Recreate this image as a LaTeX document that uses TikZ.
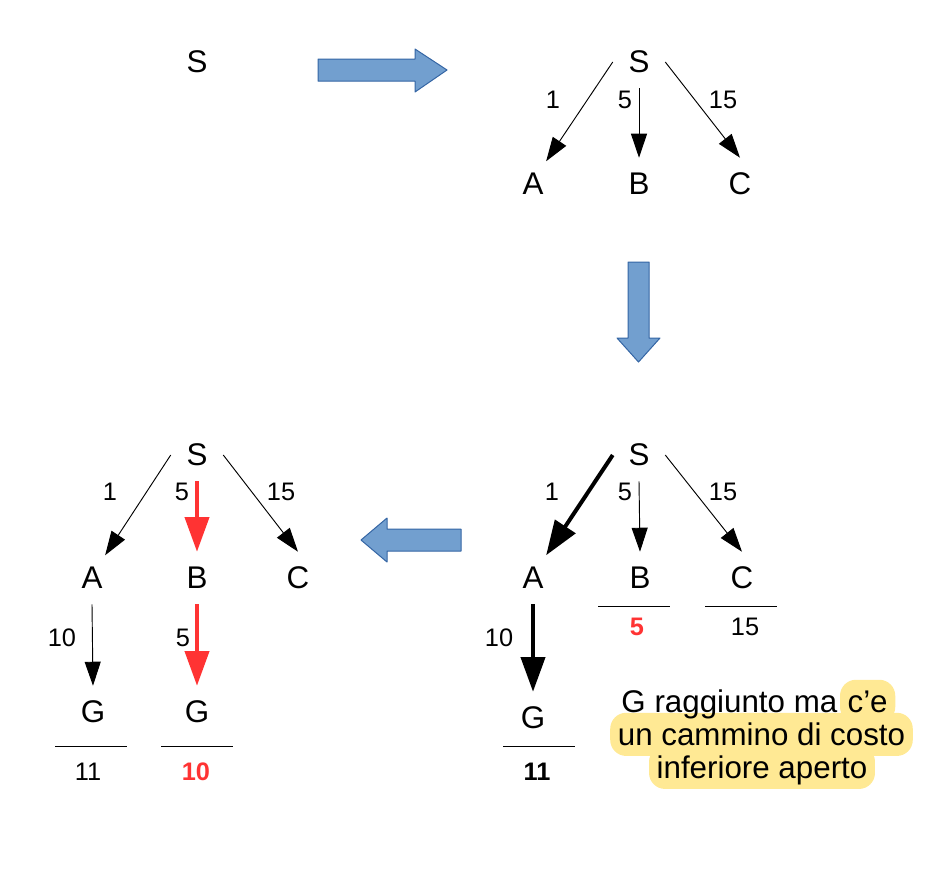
\documentclass[tikz,border=0pt]{standalone}
\usepackage{fontspec}
\setmainfont{Liberation Sans}
\usetikzlibrary{arrows.meta,backgrounds}
\definecolor{blupieno}{HTML}{729FCF}
\definecolor{blubordo}{HTML}{3465A4}
\definecolor{rosso}{HTML}{FF3333}
\definecolor{giallo}{HTML}{FFE994}

\begin{document}
\begin{tikzpicture}[x=0.75pt,y=-0.75pt,line join=round,
    stato/.style={circle,inner sep=0pt,minimum size=39pt,font=\fontsize{23.5}{28}\selectfont},
    peso/.style={inner sep=1pt,font=\fontsize{19}{23}\selectfont},
    pesob/.style={peso,font=\fontsize{19}{23}\selectfont\bfseries},
    arco/.style={line width=0.7pt,-{Triangle[length=18pt,width=12pt]}},
    arcog/.style={line width=3pt,-{Triangle[length=26pt,width=18pt]}},
    barra/.style={line width=0.7pt},
    freccia/.style={fill=blupieno,draw=blubordo,line width=0.75pt},
    nota/.style={inner xsep=5.5pt,inner ysep=0pt,text height=24pt,text depth=8pt,
      font=\fontsize{23.5}{28}\selectfont},
    evid/.style={fill=giallo,rounded corners=12pt}]

  \useasboundingbox (0,0) rectangle (937,869);

  % ---- passo 1: solo la radice --------------------------------------------
  \node[stato] (p1S) at (197,62) {S};

  \draw[freccia] (318,59) -- (415,59) -- (415,49) -- (447,70) -- (415,92)
    -- (415,81) -- (318,81) -- cycle;

  % ---- passo 2: espansione di S -------------------------------------------
  \node[stato] (p2S) at (639,62) {S};
  \node[stato] (p2A) at (533,184) {A};
  \node[stato] (p2B) at (639,184) {B};
  \node[stato] (p2C) at (740,184) {C};

  \node[peso] (p2w1) at (553,100) {1};
  \node[peso] (p2w2) at (625,100) {5};
  \node[peso] (p2w3) at (723,100) {15};

  \draw[arco] (p2S.180) -- (p2A.60);
  \draw[arco] (p2S.south) -- (p2B.north);
  \draw[arco] (p2S.east) -- (p2C.north);

  \draw[freccia] (628,262) -- (649,262) -- (649,338) -- (660,338) -- (638.5,362)
    -- (617,338) -- (628,338) -- cycle;

  % ---- passo 3: espansione di A -------------------------------------------
  \node[stato] (p3S) at (639,455) {S};
  \node[stato] (p3A) at (533,578) {A};
  \node[stato] (p3B) at (640,578) {B};
  \node[stato] (p3C) at (742,578) {C};
  \node[stato] (p3G) at (533,718) {G};

  \node[peso] (p3w1) at (552,492) {1};
  \node[peso] (p3w2) at (625,492) {5};
  \node[peso] (p3w3) at (723,492) {15};
  \node[peso] (p3w4) at (499,638) {10};

  \draw[arcog] (p3S.180) -- (p3A.60);
  \draw[arco] (p3S.south) -- (p3B.north);
  \draw[arco] (p3S.east) -- (p3C.north);
  \draw[arcog] (p3A.south) -- (p3G.north);

  \draw[barra] (598,606) -- (670,606);
  \draw[barra] (705,606) -- (777,606);
  \draw[barra] (503,746) -- (575,746);
  \node[pesob,text=rosso] (p3cB) at (637,627) {5};
  \node[peso] (p3cC) at (745,627) {15};
  \node[pesob] (p3cG) at (537,772) {11};

  % ---- la nota evidenziata --------------------------------------------------
  \node[nota,anchor=base east] (nota1a) at (845,712) {G raggiunto ma};
  \node[nota,anchor=base west] (nota1b) at (840,712) {c’e};
  \node[nota,anchor=base] (nota2) at (761.5,745) {un cammino di costo};
  \node[nota,anchor=base] (nota3) at (762,778) {inferiore aperto};
  \begin{scope}[on background layer]
    \fill[evid] (nota1b.north west) rectangle (nota1b.south east);
    \fill[evid] (nota2.north west) rectangle (nota2.south east);
    \fill[evid] (nota3.north west) rectangle (nota3.south east);
  \end{scope}

  \draw[freccia] (461,529) -- (387,529) -- (387,518) -- (361,540) -- (387,562)
    -- (387,551) -- (461,551) -- cycle;

  % ---- passo 4: espansione di B -------------------------------------------
  \node[stato] (p4S) at (197,455) {S};
  \node[stato] (p4A) at (92,578) {A};
  \node[stato] (p4B) at (197,578) {B};
  \node[stato] (p4C) at (298,578) {C};
  \node[stato] (p4G1) at (93,712) {G};
  \node[stato] (p4G2) at (197,712) {G};

  \node[peso] (p4w1) at (110,492) {1};
  \node[peso] (p4w2) at (182,492) {5};
  \node[peso] (p4w3) at (281,492) {15};
  \node[peso] (p4w4) at (62,638) {10};
  \node[peso] (p4w5) at (183,638) {5};

  \draw[arco] (p4S.180) -- (p4A.60);
  \draw[arcog,draw=rosso] (p4S.south) -- (p4B.north);
  \draw[arco] (p4S.east) -- (p4C.north);
  \draw[arco] (p4A.south) -- (p4G1.north);
  \draw[arcog,draw=rosso] (p4B.south) -- (p4G2.north);

  \draw[barra] (55,746) -- (127,746);
  \draw[barra] (161,746) -- (233,746);
  \node[peso] (p4cG1) at (88,772) {11};
  \node[pesob,text=rosso] (p4cG2) at (196,772) {10};

\end{tikzpicture}
\end{document}
